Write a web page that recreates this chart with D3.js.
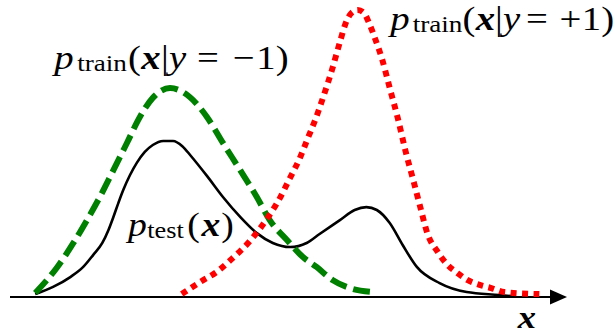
<!DOCTYPE html>
<html>
<head>
<meta charset="utf-8">
<script src="https://cdn.jsdelivr.net/npm/d3@7"></script>
<style>
  html, body { margin: 0; padding: 0; background: #fff; }
  svg { display: block; }
</style>
</head>
<body>
<svg id="chart" width="615" height="334"></svg>
<script>
// Class-conditional training densities and the test density (relative units, peak of p(x|y=+1) = 1)
const trainNeg = [
  [-2.19, 0.014], [-1.83, 0.104], [-1.57, 0.187], [-1.35, 0.266], [-1.14, 0.346],
  [-0.92, 0.439], [-0.70, 0.533], [-0.49, 0.623], [-0.28, 0.689], [0.00, 0.723],
  [0.32, 0.692], [0.60, 0.623], [0.86, 0.533], [1.14, 0.439], [1.41, 0.346],
  [1.62, 0.266], [1.90, 0.197], [2.16, 0.138], [2.38, 0.104], [2.64, 0.059],
  [2.92, 0.031], [3.29, 0.017]
];
const trainPos = [
  [0.19, 0.010], [0.49, 0.052], [0.76, 0.087], [1.02, 0.135], [1.30, 0.194],
  [1.54, 0.260], [1.75, 0.329], [1.95, 0.412], [2.11, 0.481], [2.24, 0.550],
  [2.37, 0.619], [2.50, 0.699], [2.63, 0.785], [2.76, 0.882], [2.85, 0.945],
  [2.95, 0.983], [3.05, 0.993], [3.15, 0.983], [3.24, 0.945], [3.34, 0.889],
  [3.44, 0.827], [3.57, 0.723], [3.70, 0.619], [3.83, 0.502], [3.96, 0.398],
  [4.07, 0.308], [4.18, 0.221], [4.35, 0.156], [4.51, 0.111], [4.67, 0.083],
  [4.83, 0.059], [5.03, 0.042], [5.22, 0.031], [5.43, 0.017], [6.00, 0.010]
];
const testMix = [
  [-2.19, 0.010], [-1.90, 0.035], [-1.62, 0.069], [-1.41, 0.104], [-1.25, 0.145],
  [-1.10, 0.187], [-1.00, 0.232], [-0.92, 0.277], [-0.84, 0.325], [-0.76, 0.370],
  [-0.65, 0.422], [-0.54, 0.464], [-0.41, 0.502], [-0.28, 0.526], [-0.11, 0.540],
  [0.05, 0.540], [0.20, 0.522], [0.34, 0.488], [0.60, 0.419], [0.86, 0.346],
  [1.14, 0.277], [1.41, 0.221], [1.67, 0.187], [1.95, 0.173], [2.22, 0.187],
  [2.43, 0.218], [2.76, 0.266], [3.00, 0.301], [3.19, 0.311], [3.36, 0.301],
  [3.57, 0.256], [3.78, 0.180], [4.01, 0.104], [4.38, 0.048], [4.82, 0.017],
  [5.35, 0.007], [5.56, 0.003]
];
const axisExtent = [-2.6, 6.45];
const densityExtent = [0, 1];

// Label texts as math pieces: it = italic, bf = bold italic, sub = subscript
const labelNeg = [
  { text: 'p', it: true }, { text: 'train', sub: true }, { text: '(' },
  { text: 'x', bf: true }, { text: '|' }, { text: 'y', it: true },
  { text: '=' }, { text: '−' }, { text: '1)' }
];
const labelPos = [
  { text: 'p', it: true }, { text: 'train', sub: true }, { text: '(' },
  { text: 'x', bf: true }, { text: '|' }, { text: 'y', it: true },
  { text: '=' }, { text: '+' }, { text: '1)' }
];
const labelTest = [
  { text: 'p', it: true }, { text: 'test', sub: true }, { text: '(' },
  { text: 'x', bf: true }, { text: ')' }
];
const labelAxis = [{ text: 'x', bf: true }];

const FONT = '"Liberation Serif", "Times New Roman", serif';

const svg = d3.select('#chart');
const x = d3.scaleLinear().domain(axisExtent).range([10, 567]);
const y = d3.scaleLinear().domain(densityExtent).range([297, 8]);

const line = d3.line()
  .x(d => x(d[0]))
  .y(d => y(d[1]))
  .curve(d3.curveMonotoneX);

// Horizontal axis with arrow head
const axisG = svg.append('g').attr('transform', `translate(0,${y(0)})`);
axisG.call(d3.axisBottom(x).tickValues([]).tickSizeOuter(0));
axisG.select('.domain')
  .attr('stroke', '#000')
  .attr('stroke-width', 2)
  .attr('d', `M${x(axisExtent[0])},0H${x(axisExtent[1]) - 12}`);
const tip = x(axisExtent[1]);
axisG.append('path')
  .attr('d', `M${tip},0L${tip - 17},-7.5L${tip - 17},7.5Z`)
  .attr('fill', '#000');

// Density curves
svg.append('path').datum(testMix)
  .attr('d', line).attr('fill', 'none')
  .attr('stroke', '#000').attr('stroke-width', 2.6);

svg.append('path').datum(trainNeg)
  .attr('d', line).attr('fill', 'none')
  .attr('stroke', '#008000').attr('stroke-width', 6)
  .attr('stroke-dasharray', '17,7');

svg.append('path').datum(trainPos)
  .attr('d', line).attr('fill', 'none')
  .attr('stroke', '#ff0000').attr('stroke-width', 6)
  .attr('stroke-dasharray', '6,5.5');

// Math-style labels: one text element, each piece centred on its own slot as in typeset formulas
const SX = 1.14;
function mathLabel(parts, centers, baseline, size) {
  const t = svg.append('text')
    .attr('font-family', FONT)
    .attr('font-size', size)
    .attr('fill', '#000')
    .attr('text-anchor', 'middle')
    .attr('transform', `translate(0,${baseline}) scale(${SX},1)`);
  parts.forEach((p, i) => {
    t.append('tspan')
      .attr('x', centers[i] / SX)
      .attr('y', p.sub ? size * 0.07 : 0)
      .attr('font-size', p.sub ? size * 0.7 : size)
      .attr('font-style', (p.it || p.bf) ? 'italic' : 'normal')
      .attr('font-weight', p.bf ? 'bold' : 'normal')
      .text(p.text);
  });
}

mathLabel(labelNeg, [64, 102, 134.5, 151, 165, 177.5, 208, 243.5, 272.5], 69, 34);
mathLabel(labelPos, [400, 437.5, 469, 485.5, 499, 511.5, 537, 570.5, 598], 30, 34);
mathLabel(labelTest, [137.5, 165.5, 193.5, 211, 227.5], 236, 33);
mathLabel(labelAxis, [527], 327.5, 32);
</script>
</body>
</html>
